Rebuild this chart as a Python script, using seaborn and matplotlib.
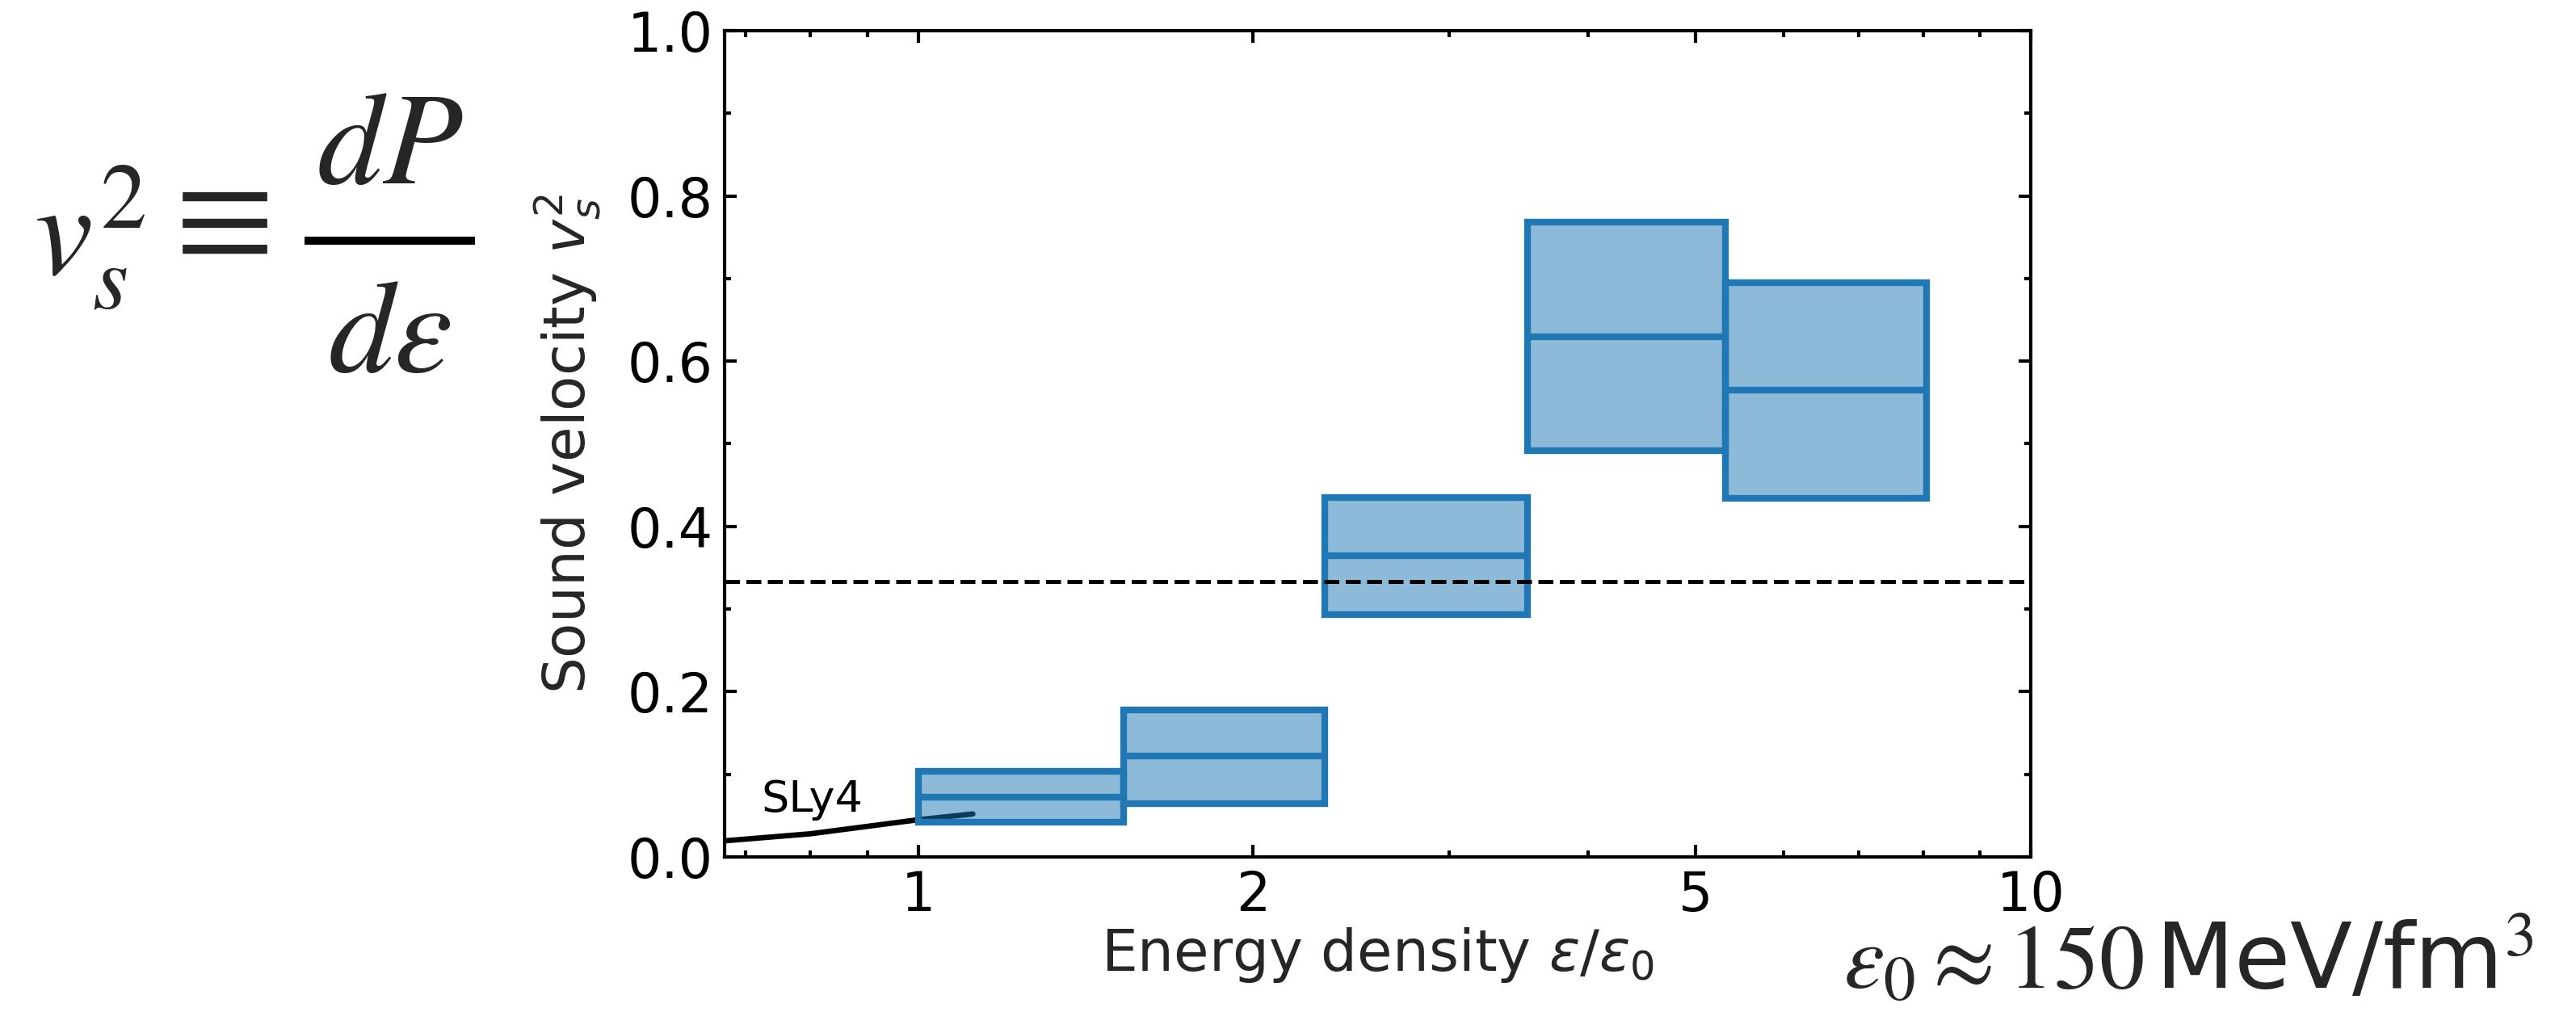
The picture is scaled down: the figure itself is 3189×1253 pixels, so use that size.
import numpy as np
import matplotlib
matplotlib.use("Agg")
import matplotlib.pyplot as plt
from matplotlib.colors import to_rgba
from matplotlib.lines import Line2D
from matplotlib.ticker import MultipleLocator, FixedLocator, FixedFormatter
import seaborn as sns

# Energy-density bins (units of eps_0) and the sound-velocity band in each bin
bin_lo = [1.00, 1.53, 2.32, 3.53, 5.32]
bin_hi = [1.53, 2.32, 3.53, 5.32, 8.06]
cs2_low = [0.042, 0.065, 0.293, 0.492, 0.434]
cs2_mid = [0.072, 0.122, 0.365, 0.630, 0.565]
cs2_high = [0.104, 0.178, 0.435, 0.768, 0.695]

# SLy4 nuclear equation of state at low density
sly4_eps = [0.67, 0.80, 1.00, 1.12]
sly4_cs2 = [0.0195, 0.028, 0.045, 0.052]

# Conformal limit
conformal_cs2 = 1.0 / 3.0

x_ticks = [1, 2, 5, 10]
x_tick_labels = ["1", "2", "5", "10"]
y_ticks = [0.0, 0.2, 0.4, 0.6, 0.8, 1.0]
y_tick_labels = ["0.0", "0.2", "0.4", "0.6", "0.8", "1.0"]

sns.set_theme(style="ticks")
plt.rcParams["font.family"] = ["DejaVu Sans"]
plt.rcParams["mathtext.fontset"] = "dejavusans"

blue = "#1f77b4"

W, H, DPI = 3189, 1253, 300
fig = plt.figure(figsize=(W / DPI, H / DPI), dpi=DPI)
ax = fig.add_axes([897 / W, 1 - 1061 / H, (2514 - 897) / W, (1061 - 38) / H])

# SLy4 curve (under the bands)
sns.lineplot(x=sly4_eps, y=sly4_cs2, color="black", linewidth=1.6, ax=ax,
             zorder=1, estimator=None, sort=False)
ax.text(0.723, 0.055, "SLy4", fontsize=13, ha="left", va="baseline", color="black")

# Sound-velocity bands
lo = np.array(bin_lo)
hi = np.array(bin_hi)
low = np.array(cs2_low)
high = np.array(cs2_high)
ax.bar(lo, high - low, width=hi - lo, bottom=low, align="edge",
       facecolor=to_rgba(blue, 0.5), edgecolor=blue, linewidth=2.0, zorder=2)
ax.hlines(cs2_mid, lo, hi, color=blue, linewidth=2.0, zorder=3)

# Conformal limit
ax.axhline(conformal_cs2, color="black", linestyle="--", linewidth=1.2, zorder=4)

ax.set_xscale("log")
ax.set_xlim(0.67, 10)
ax.set_ylim(0, 1)
ax.xaxis.set_major_locator(FixedLocator(x_ticks))
ax.xaxis.set_major_formatter(FixedFormatter(x_tick_labels))
ax.yaxis.set_major_locator(FixedLocator(y_ticks))
ax.yaxis.set_major_formatter(FixedFormatter(y_tick_labels))
ax.yaxis.set_minor_locator(MultipleLocator(0.1))
ax.tick_params(which="both", direction="in", top=True, right=True,
               colors="black", labelsize=16, width=1.0)
ax.tick_params(which="major", length=3.5)
ax.tick_params(which="minor", length=2.0)
for s in ax.spines.values():
    s.set_linewidth(1.0)
    s.set_color("black")

ax.set_xlabel(r"Energy density $\varepsilon/\varepsilon_0$", fontsize=17, labelpad=1)
ax.set_ylabel(r"Sound velocity $v_s^2$", fontsize=17, labelpad=7)

# Definition of the sound velocity, set as a displayed fraction
def px(x, y):
    return x / W, 1 - y / H

eq_size = 39
fig.text(*px(42, 340), r"$v_s^2$", fontsize=eq_size, ha="left", va="baseline",
         math_fontfamily="stix")
fig.text(*px(278, 297), "\u2261", fontsize=54, ha="center", va="center",
         family=["Liberation Serif", "DejaVu Serif"])
fig.text(*px(483, 227), r"$dP$", fontsize=eq_size, ha="center", va="baseline",
         math_fontfamily="stix")
fig.text(*px(482, 460), r"$d\varepsilon$", fontsize=eq_size, ha="center", va="baseline",
         math_fontfamily="stix")
(bx0, by), (bx1, _) = px(377, 297.5), px(588, 297.5)
fig.add_artist(Line2D([bx0, bx1], [by, by], transform=fig.transFigure,
                      color="black", linewidth=10 * 72 / DPI, solid_capstyle="butt"))

# Unit of energy density
fig.text(*px(2282, 1223), r"$\varepsilon_0 \approx 150\,$MeV/fm$^3$",
         fontsize=27, ha="left", va="baseline", math_fontfamily="stix")

fig.savefig("out.png", dpi=DPI)
